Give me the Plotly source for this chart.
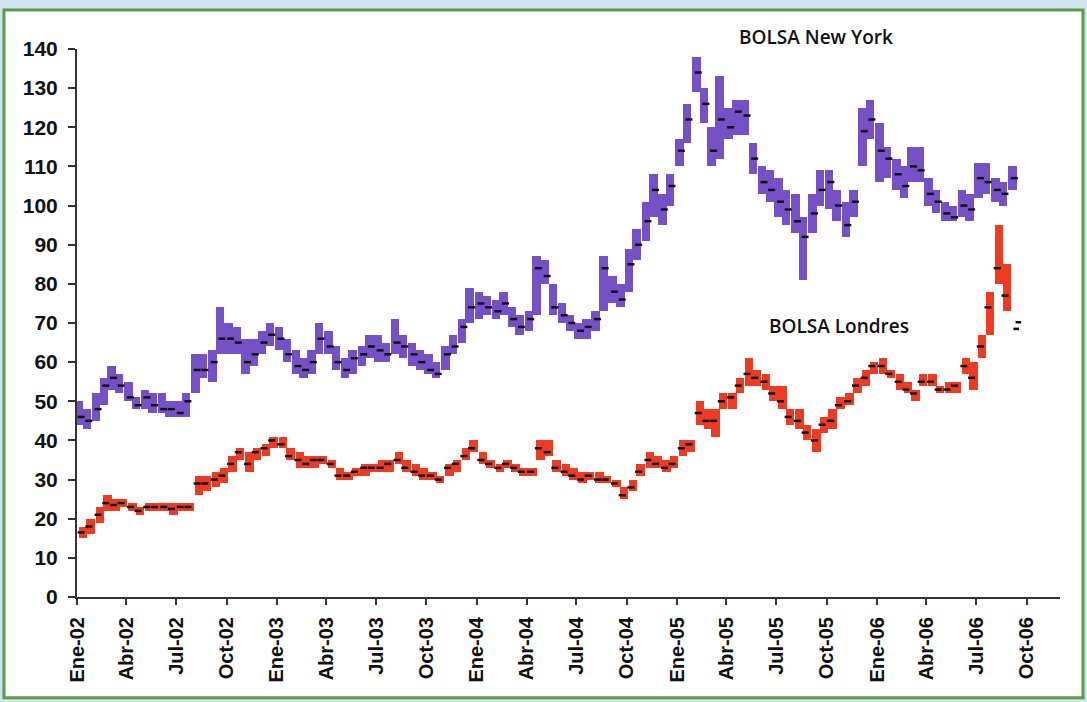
import pandas as pd
import plotly.graph_objects as go

# half-month periods, Jan 2002 onwards
ny_high = [50, 48, 52, 56, 59, 57, 55, 51, 53, 52, 52, 50, 50, 52, 62, 62, 63, 74, 70, 69, 66, 66, 68, 70,
           69, 66, 63, 61, 63, 70, 68, 64, 61, 63, 64, 67, 67, 65, 71, 67, 65, 63, 62, 60, 64, 67, 71, 79,
           78, 77, 76, 78, 74, 72, 73, 87, 86, 80, 75, 72, 70, 71, 73, 87, 82, 80, 89, 94, 101, 108, 103, 108,
           117, 126, 138, 130, 120, 133, 125, 127, 127, 116, 110, 109, 107, 104, 103, 97, 103, 109, 109, 104, 101, 104, 125, 127,
           121, 115, 112, 110, 115, 115, 107, 104, 101, 100, 104, 103, 111, 111, 107, 106, 110]
ny_low = [44, 43, 45, 49, 53, 52, 50, 48, 48, 47, 47, 46, 46, 46, 52, 56, 55, 62, 62, 62, 57, 59, 62, 64,
          63, 60, 57, 56, 57, 62, 62, 58, 56, 57, 59, 61, 60, 60, 62, 61, 59, 58, 57, 56, 58, 62, 65, 70,
          71, 72, 71, 72, 69, 67, 68, 72, 80, 72, 70, 68, 66, 66, 68, 73, 75, 74, 78, 86, 91, 97, 95, 100,
          110, 116, 129, 121, 110, 112, 117, 118, 118, 108, 103, 101, 97, 95, 93, 81, 93, 100, 99, 96, 92, 97, 110, 117,
          106, 107, 104, 102, 106, 106, 100, 98, 96, 96, 97, 96, 102, 103, 101, 100, 104]
ny_close = [46, 45, 48, 54, 56, 54, 51, 49, 51, 49, 48, 48, 47, 50, 58, 58, 60, 66, 66, 65, 60, 62, 65, 67,
            66, 62, 59, 58, 60, 66, 64, 60, 58, 61, 62, 64, 63, 62, 65, 64, 62, 60, 58, 57, 62, 64, 69, 74,
            75, 74, 73, 75, 71, 69, 71, 84, 82, 74, 72, 70, 68, 69, 71, 84, 78, 76, 85, 90, 96, 104, 99, 105,
            114, 122, 134, 126, 114, 122, 120, 124, 123, 112, 106, 104, 101, 99, 96, 92, 98, 104, 106, 100, 95, 101, 119, 122,
            114, 112, 108, 105, 110, 109, 103, 101, 98, 97, 100, 99, 107, 106, 104, 103, 107]

ldn_high = [18, 20, 23, 26, 25, 25, 24, 23, 24, 24, 24, 24, 24, 24, 31, 31, 32, 33, 36, 38, 37, 38, 39, 41,
            41, 38, 37, 36, 36, 36, 35, 33, 32, 33, 34, 34, 35, 35, 37, 35, 34, 33, 32, 31, 34, 35, 38, 40,
            37, 35, 34, 35, 34, 33, 33, 40, 40, 35, 34, 33, 32, 32, 32, 31, 30, 28, 30, 34, 37, 36, 35, 36,
            40, 40, 50, 48, 48, 52, 52, 56, 61, 58, 57, 54, 54, 48, 48, 44, 43, 46, 48, 51, 52, 56, 58, 60,
            61, 58, 57, 55, 53, 57, 57, 54, 55, 55, 61, 60, 67, 78, 95, 85]
ldn_low = [15, 16, 19, 22, 22, 23, 22, 21, 22, 22, 22, 21, 22, 22, 26, 27, 28, 29, 32, 35, 32, 35, 36, 38,
           38, 35, 33, 33, 33, 34, 33, 30, 30, 31, 31, 32, 32, 32, 34, 32, 31, 30, 30, 29, 31, 32, 35, 37,
           34, 33, 32, 33, 32, 31, 31, 35, 36, 32, 31, 30, 29, 30, 29, 29, 28, 25, 27, 31, 33, 33, 32, 33,
           36, 37, 44, 43, 41, 48, 48, 52, 54, 54, 53, 50, 48, 44, 43, 40, 37, 42, 43, 48, 49, 52, 54, 57,
           57, 56, 53, 52, 50, 54, 54, 52, 52, 52, 57, 53, 61, 67, 80, 73]
ldn_close = [16.5, 18, 21, 24, 23.5, 24, 23, 22, 23, 23, 23, 22.5, 23, 23, 29, 29, 30, 31, 34, 37, 34, 37, 38, 40,
             39, 36, 35, 34, 35, 35, 34, 31, 31, 32, 33, 33, 33, 34, 35, 33, 32, 31, 31, 30, 33, 34, 36, 38,
             35, 34, 33, 34, 33, 32, 32, 38, 37, 33, 32, 31, 30, 31, 30, 30, 29, 26, 28, 32, 35, 34, 33, 34,
             38, 39, 47, 45, 45, 50, 51, 54, 57, 56, 55, 52, 50, 46, 45, 42, 40, 44, 45, 49, 50, 54, 56, 59,
             59, 57, 55, 53, 52, 55, 55, 53, 53, 54, 59, 56, 64, 74, 84, 77]
ldn_tail_dates = ["2006-09-12", "2006-09-16"]
ldn_tail = [68.5, 70.2]

tick_dates = ["2002-01-01", "2002-04-01", "2002-07-01", "2002-10-01",
              "2003-01-01", "2003-04-01", "2003-07-01", "2003-10-01",
              "2004-01-01", "2004-04-01", "2004-07-01", "2004-10-01",
              "2005-01-01", "2005-04-01", "2005-07-01", "2005-10-01",
              "2006-01-01", "2006-04-01", "2006-07-01", "2006-10-01"]
tick_text = ["Ene-02", "Abr-02", "Jul-02", "Oct-02", "Ene-03", "Abr-03", "Jul-03", "Oct-03",
             "Ene-04", "Abr-04", "Jul-04", "Oct-04", "Ene-05", "Abr-05", "Jul-05", "Oct-05",
             "Ene-06", "Abr-06", "Jul-06", "Oct-06"]

PURPLE = "#7650c6"
RED = "#ee3b22"
DAY = 86400000


def periods(n):
    starts = pd.date_range("2002-01-01", periods=n, freq="SMS")
    return starts + pd.Timedelta(days=7.5)


fig = go.Figure()

for high, low, close, color in [(ny_high, ny_low, ny_close, PURPLE),
                                (ldn_high, ldn_low, ldn_close, RED)]:
    x = periods(len(high))
    fig.add_trace(go.Bar(
        x=x,
        y=[h - l for h, l in zip(high, low)],
        base=low,
        width=15.5 * DAY,
        marker=dict(color=color, line=dict(width=0)),
        showlegend=False,
    ))
    fig.add_trace(go.Scatter(
        x=x, y=close, mode="markers",
        marker=dict(symbol="line-ew", size=5, line=dict(width=2.5, color="#111")),
        showlegend=False,
    ))

fig.add_trace(go.Scatter(
    x=ldn_tail_dates, y=ldn_tail, mode="markers",
    marker=dict(symbol="line-ew", size=4, line=dict(width=2.5, color="#111")),
    showlegend=False,
))

# white card with green border on the pale blue page
fig.add_shape(type="rect", xref="paper", yref="paper",
              x0=-0.0743, x1=1.0234, y0=-0.184, y1=1.071,
              fillcolor="white", line=dict(color="#5e9a48", width=3), layer="below")

label_font = dict(family="Open Sans", size=19, color="#111", weight=600)
fig.add_annotation(text="BOLSA New York", xref="paper", yref="paper", x=0.752, y=1.022,
                   xanchor="center", yanchor="middle", showarrow=False, font=label_font)
fig.add_annotation(text="BOLSA Londres", xref="paper", yref="paper", x=0.775, y=0.4945,
                   xanchor="center", yanchor="middle", showarrow=False, font=label_font)

fig.update_xaxes(
    type="date", range=["2002-01-01", "2006-12-01"],
    tickvals=tick_dates, ticktext=tick_text, tickangle=-90,
    ticks="outside", ticklen=6, tickwidth=2, tickcolor="#333",
    showline=True, linecolor="#333", linewidth=2, showgrid=False, zeroline=False,
    tickfont=dict(family="Liberation Sans", size=20, color="#111", weight="bold"),
    ticklabelstandoff=4,
)
fig.update_yaxes(
    range=[0, 140], dtick=10,
    ticks="outside", ticklen=7, tickwidth=2, tickcolor="#333",
    showline=True, linecolor="#333", linewidth=2, showgrid=False, zeroline=False,
    tickfont=dict(family="Liberation Sans", size=21, color="#111", weight="bold"),
    ticklabelstandoff=6,
)

fig.update_layout(
    width=1087, height=702,
    margin=dict(l=77, r=27, t=49, b=105),
    paper_bgcolor="#cfe4f1",
    plot_bgcolor="rgba(0,0,0,0)",
    bargap=0,
    font=dict(family="Liberation Sans"),
)

fig.write_html("out.html", config={"displayModeBar": False},
               post_script="document.body.style.margin = '0';")
